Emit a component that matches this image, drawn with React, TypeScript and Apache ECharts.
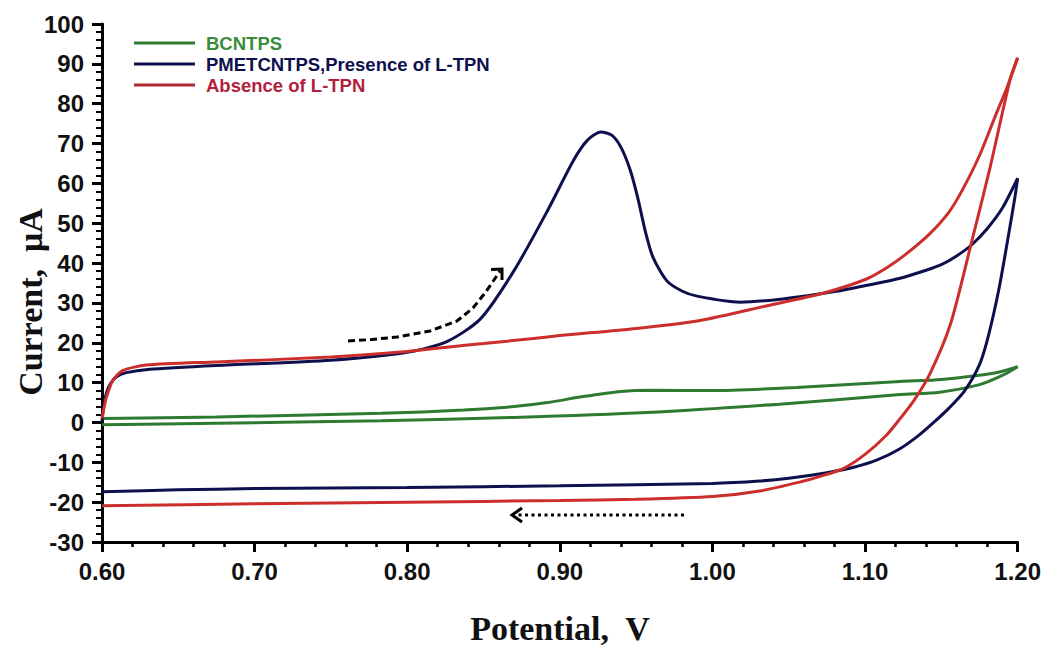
import React, { useEffect, useRef } from "react";
import * as echarts from "echarts";

// ---- data (Potential V, Current µA) ----
const blueForward: number[][] = [
  [0.600, 0.0], [0.601, 4.0], [0.603, 7.5], [0.606, 10.0], [0.610, 11.6], [0.616, 12.5],
  [0.630, 13.3], [0.675, 14.3], [0.750, 15.6], [0.800, 17.6], [0.826, 20.3], [0.848, 26.0],
  [0.870, 38.1], [0.892, 53.2], [0.909, 65.8], [0.918, 70.8], [0.927, 72.9], [0.934, 72.1],
  [0.940, 69.1], [0.946, 63.5], [0.951, 56.5], [0.956, 48.0], [0.961, 41.5], [0.970, 35.6],
  [0.980, 33.0], [0.990, 31.7], [1.018, 30.2], [1.046, 31.0], [1.079, 32.8], [1.105, 34.7],
  [1.123, 36.2], [1.140, 38.2], [1.150, 39.6], [1.160, 41.8], [1.170, 44.6], [1.180, 48.6],
  [1.190, 53.8], [1.200, 61.3],
];
const blueReverse: number[][] = [
  [1.200, 61.3], [1.198, 56.0], [1.194, 47.0], [1.188, 34.0], [1.181, 22.0], [1.175, 14.5],
  [1.165, 7.8], [1.155, 3.6], [1.145, 0.0], [1.135, -3.3], [1.122, -6.8], [1.108, -9.4],
  [1.092, -11.3], [1.075, -12.6], [1.050, -14.0], [1.031, -14.7], [1.000, -15.3],
  [0.900, -15.9], [0.800, -16.3], [0.700, -16.6], [0.650, -16.9], [0.600, -17.4],
];
const redForward: number[][] = [
  [0.600, 1.0], [0.6015, 4.0], [0.603, 6.5], [0.607, 10.5], [0.6135, 13.0], [0.629, 14.4],
  [0.675, 15.2], [0.750, 16.4], [0.800, 17.8], [0.826, 18.9], [0.850, 19.8], [0.881, 21.0],
  [0.900, 21.8], [0.950, 23.6], [0.992, 25.6], [1.036, 29.3], [1.073, 32.5], [1.101, 36.0],
  [1.115, 39.0], [1.127, 42.3], [1.1425, 47.4], [1.155, 52.8], [1.164, 58.5], [1.175, 67.0],
  [1.186, 77.5], [1.193, 84.0], [1.200, 91.5],
];
const redReverse: number[][] = [
  [1.200, 91.5], [1.195, 86.0], [1.182, 64.1], [1.169, 44.0], [1.156, 24.7], [1.1425, 12.2],
  [1.132, 5.5], [1.122, 0.5], [1.114, -3.2], [1.100, -8.0], [1.086, -11.5], [1.070, -13.6],
  [1.058, -14.9], [1.031, -17.2], [1.000, -18.6], [0.950, -19.3], [0.900, -19.6],
  [0.800, -20.0], [0.700, -20.4], [0.600, -20.9],
];
const greenForward: number[][] = [
  [0.600, 1.0], [0.675, 1.4], [0.783, 2.3], [0.837, 3.1], [0.870, 4.0], [0.892, 5.0],
  [0.915, 6.5], [0.940, 7.8], [0.960, 8.1], [1.000, 8.0], [1.055, 8.8], [1.123, 10.3],
  [1.150, 10.8], [1.185, 12.4], [1.200, 14.0],
];
const greenReverse: number[][] = [
  [1.200, 14.0], [1.190, 11.8], [1.175, 9.5], [1.149, 7.6], [1.123, 7.0], [1.044, 4.6],
  [0.957, 2.5], [0.870, 1.26], [0.783, 0.43], [0.675, -0.2], [0.600, -0.6],
];

const legendNames = ["BCNTPS", "PMETCNTPS,Presence of L-TPN", "Absence of L-TPN"];
const lineColors = ["#2f7a31", "#0d104c", "#cc2e2b"];
const legendLineColors = ["#2f7a31", "#0d104c", "#b02a36"];
const legendTextColors = ["#3a8c3a", "#0d104c", "#b31f3e"];

const xMin = 0.6, xMax = 1.2, xStep = 0.1;
const yMin = -30, yMax = 100, yStep = 10;
const xTitle = "Potential,  V";
const yTitle = "Current,  μA";

export default function App() {
  const ref = useRef<HTMLDivElement>(null);
  useEffect(() => {
    if (!ref.current) return;
    const chart = echarts.init(ref.current, undefined, { renderer: "svg" });
    const mk = (data: number[][], color: string, name: string) => ({
      type: "line",
      name,
      data,
      showSymbol: false,
      symbol: "none",
      smooth: 0.25,
      lineStyle: { color, width: 3 },
      clip: false,
    });
    const legendGraphics: any[] = [];
    const rowY = [43, 64, 85];
    legendNames.forEach((n, i) => {
      legendGraphics.push({
        type: "line",
        shape: { x1: 134, y1: rowY[i], x2: 195, y2: rowY[i] },
        style: { stroke: legendLineColors[i], lineWidth: 3 },
      });
      legendGraphics.push({
        type: "text",
        x: 206,
        y: rowY[i],
        style: {
          text: n,
          fill: legendTextColors[i],
          font: "bold 18.5px 'Liberation Sans', Arial, sans-serif",
          textVerticalAlign: "middle",
          textAlign: "left",
        },
      });
    });
    const labelFont = {
      color: "#111",
      fontSize: 24,
      fontWeight: "bold",
      fontFamily: "'Liberation Sans', Arial, sans-serif",
    };
    chart.setOption({
      animation: false,
      backgroundColor: "#ffffff",
      grid: { left: 102, right: 26, top: 24, bottom: 103, containLabel: false },
      xAxis: {
        type: "value",
        min: xMin,
        max: xMax,
        interval: xStep,
        axisLine: { onZero: false, lineStyle: { color: "#000", width: 3 } },
        axisTick: { length: 10, lineStyle: { color: "#000", width: 3 } },
        minorTick: { show: true, splitNumber: 5, length: 5, lineStyle: { color: "#000", width: 2.5 } },
        splitLine: { show: false },
        axisLabel: { ...labelFont, margin: 17, formatter: (v: number) => v.toFixed(2) },
      },
      yAxis: {
        type: "value",
        min: yMin,
        max: yMax,
        interval: yStep,
        axisLine: { onZero: false, lineStyle: { color: "#000", width: 3 } },
        axisTick: { length: 10, lineStyle: { color: "#000", width: 3 } },
        minorTick: { show: true, splitNumber: 5, length: 6, lineStyle: { color: "#000", width: 2 } },
        splitLine: { show: false },
        axisLabel: { ...labelFont, margin: 18 },
      },
      series: [
        mk(greenForward, lineColors[0], legendNames[0]),
        mk(greenReverse, lineColors[0], legendNames[0]),
        mk(blueForward, lineColors[1], legendNames[1]),
        mk(blueReverse, lineColors[1], legendNames[1]),
        mk(redForward, lineColors[2], legendNames[2]),
        mk(redReverse, lineColors[2], legendNames[2]),
      ],
      graphic: [
        ...legendGraphics,
        {
          type: "text",
          x: 30,
          y: 302,
          rotation: Math.PI / 2,
          style: {
            text: yTitle,
            fill: "#111",
            font: "bold 34px 'Liberation Serif', 'Times New Roman', serif",
            textAlign: "center",
            textVerticalAlign: "middle",
          },
        },
        {
          type: "text",
          x: 560,
          y: 628,
          style: {
            text: xTitle,
            fill: "#111",
            font: "bold 34px 'Liberation Serif', 'Times New Roman', serif",
            textAlign: "center",
            textVerticalAlign: "middle",
          },
        },
        {
          type: "polyline",
          shape: { points: [[348, 341], [372, 339.5], [397, 337], [430, 331], [457, 321], [473, 308], [485, 293], [494, 280], [500, 271]] },
          style: { stroke: "#000", lineWidth: 3, lineDash: [7, 4], fill: null },
        },
        {
          type: "polyline",
          shape: { points: [[491, 269.5], [502, 269], [502, 280]] },
          style: { stroke: "#000", lineWidth: 3, fill: null },
        },
        {
          type: "line",
          shape: { x1: 684, y1: 515, x2: 516, y2: 515 },
          style: { stroke: "#000", lineWidth: 3, lineDash: [3, 3.5] },
        },
        {
          type: "polyline",
          shape: { points: [[522, 508], [512, 515], [522, 522]] },
          style: { stroke: "#000", lineWidth: 3, fill: null },
        },
      ],
    });
    return () => chart.dispose();
  }, []);
  return (
    <div
      ref={ref}
      style={{ position: "fixed", left: 0, top: 0, width: 1044, height: 645, background: "#fff" }}
    />
  );
}
